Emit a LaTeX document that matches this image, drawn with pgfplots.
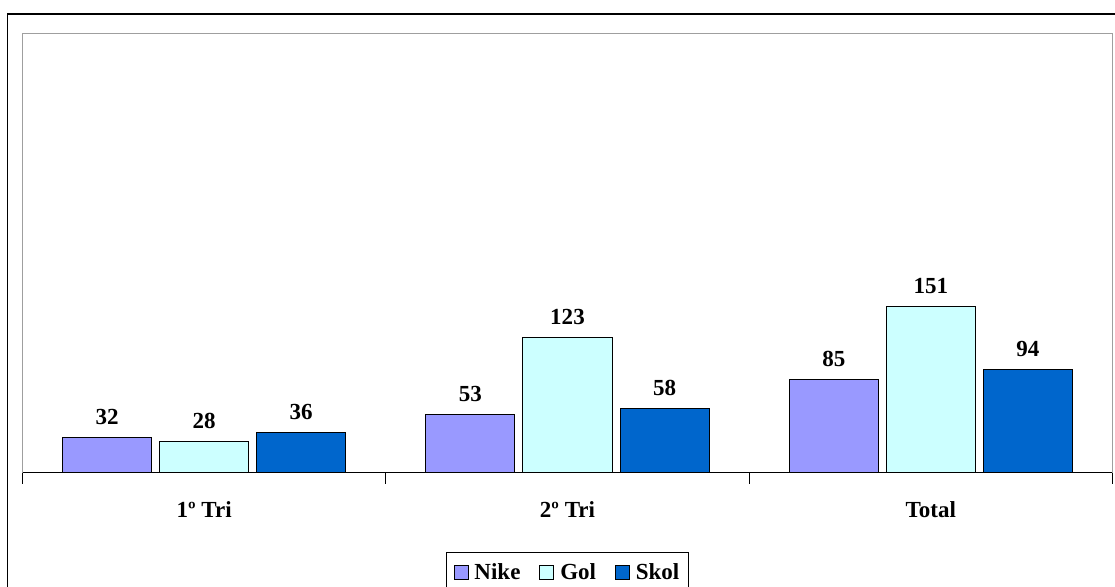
\documentclass[border=0pt]{standalone}
\usepackage{pgfplots}
\pgfplotsset{compat=1.18}
\usepackage{fontspec}
\setmainfont{Liberation Serif}
\definecolor{cNike}{HTML}{9999FF}
\definecolor{cGol}{HTML}{CCFFFF}
\definecolor{cSkol}{HTML}{0066CC}
\newcommand{\lf}{\bfseries\fontsize{23}{25}\selectfont}
\begin{document}
\begin{tikzpicture}
\useasboundingbox (0,0) rectangle (1115pt,586pt);
\draw[line width=1.6pt] (7.5pt,-5pt) -- (7.5pt,572pt) -- (1120pt,572pt);
\begin{axis}[
  at={(22.5pt,113.5pt)}, anchor=south west,
  scale only axis, width=1090pt, height=439pt,
  ybar=8pt, bar width=89pt,
  ymin=0, ymax=400, xmin=-0.5, xmax=2.5,
  ytick=\empty,
  xtick={0,1,2}, xticklabels={1º Tri,2º Tri,Total},
  minor xtick={-0.5,0.5,1.5,2.5},
  major tick length=0pt, minor tick length=11pt,
  tick align=outside, xtick pos=left,
  tick style={black, line width=0.8pt},
  axis line style={draw=gray!75, line width=1.2pt},
  xticklabel style={font=\lf, yshift=-26pt},
  /pgf/number format/assume math mode=true,
  nodes near coords,
  nodes near coords style={font=\lf, yshift=9pt},
  legend style={at={(0.5,-0.18)}, anchor=north, legend columns=3,
    draw=black, line width=0.8pt, font=\lf, inner xsep=7.5pt, inner ysep=10pt,
    nodes={inner xsep=2pt},
    /tikz/every odd column/.append style={column sep=4pt},
    /tikz/every even column/.append style={column sep=17pt}},
  legend cell align=left,
]
\addplot[fill=cNike, draw=black, line width=1pt,
  legend image code/.code={\draw[fill=cNike,draw=black,line width=0.8pt] (0pt,-7pt) rectangle (14pt,7pt);}]
  coordinates {(0,32) (1,53) (2,85)};
\addplot[fill=cGol, draw=black, line width=1pt,
  legend image code/.code={\draw[fill=cGol,draw=black,line width=0.8pt] (0pt,-7pt) rectangle (14pt,7pt);}]
  coordinates {(0,28) (1,123) (2,151)};
\addplot[fill=cSkol, draw=black, line width=1pt,
  legend image code/.code={\draw[fill=cSkol,draw=black,line width=0.8pt] (0pt,-7pt) rectangle (14pt,7pt);}]
  coordinates {(0,36) (1,58) (2,94)};
\legend{Nike,Gol,Skol}
\draw[black, line width=1pt] (rel axis cs:0,0) -- (rel axis cs:1,0);
\end{axis}
\end{tikzpicture}
\end{document}
